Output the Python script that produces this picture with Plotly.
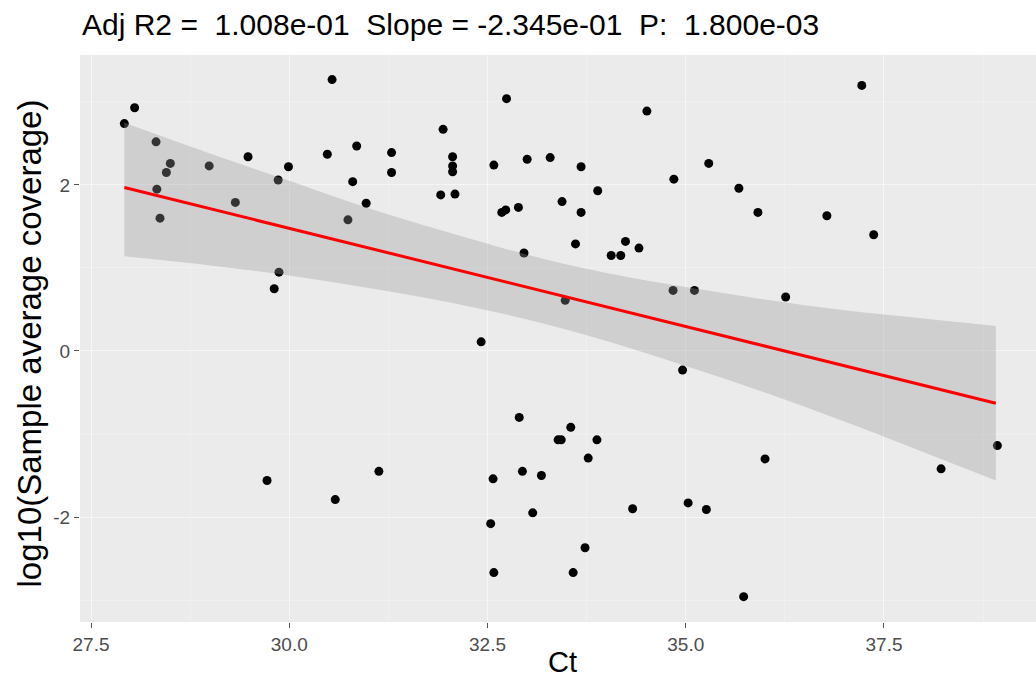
import plotly.graph_objects as go

# ---- data ----
ct = [28.05, 27.92, 28.32, 28.50, 28.45, 28.33, 28.37, 28.99, 29.48, 29.32,
      29.99, 29.86, 29.87, 29.81, 30.54, 30.48, 30.85, 30.80, 30.97, 30.74,
      31.29, 31.29, 31.94, 31.91, 32.06, 32.06, 32.09, 32.74, 32.58, 33.00,
      33.29, 33.68, 33.89, 33.44, 33.68, 32.68, 32.73, 32.89, 34.51, 34.85,
      35.29, 35.67, 35.91, 32.96, 33.61, 34.24, 34.06, 34.18, 34.41, 34.84,
      35.11, 33.48, 32.42, 34.96, 32.90, 33.55, 33.39, 33.43, 33.88, 33.77,
      36.00, 32.57, 32.94, 33.18, 33.07, 32.54, 34.33, 35.03, 35.26, 33.73,
      32.58, 33.58, 35.73, 29.72, 30.58, 31.13, 37.22, 36.78, 37.37, 36.26,
      38.93, 38.22, 32.06]
coverage = [2.93, 2.74, 2.52, 2.26, 2.15, 1.95, 1.60, 2.23, 2.34, 1.79,
            2.22, 2.06, 0.95, 0.75, 3.27, 2.37, 2.47, 2.04, 1.78, 1.58,
            2.39, 2.15, 2.67, 1.88, 2.34, 2.23, 1.89, 3.04, 2.24, 2.31,
            2.33, 2.22, 1.93, 1.80, 1.67, 1.67, 1.70, 1.73, 2.89, 2.07,
            2.26, 1.96, 1.67, 1.18, 1.29, 1.32, 1.15, 1.15, 1.24, 0.73,
            0.73, 0.61, 0.11, -0.23, -0.80, -0.92, -1.07, -1.07, -1.07, -1.29,
            -1.30, -1.54, -1.45, -1.50, -1.95, -2.08, -1.90, -1.83, -1.91, -2.37,
            -2.67, -2.67, -2.96, -1.56, -1.79, -1.45, 3.20, 1.63, 1.40, 0.65,
            -1.14, -1.42, 2.16]

fit_x = [27.92, 38.91]
fit_y = [1.97, -0.63]

band_x = [27.92, 29, 30, 31, 32, 33, 34, 35, 36, 37, 38, 38.91]
band_upper = [2.75, 2.38, 2.05, 1.72, 1.43, 1.16, 0.94, 0.77, 0.62, 0.49, 0.39, 0.30]
band_lower = [1.14, 1.03, 0.91, 0.76, 0.59, 0.38, 0.12, -0.18, -0.50, -0.85, -1.22, -1.56]

x_ticks = [27.5, 30.0, 32.5, 35.0, 37.5]
x_ticklabels = ["27.5", "30.0", "32.5", "35.0", "37.5"]
x_minor = [28.75, 31.25, 33.75, 36.25, 38.75]
y_ticks = [-2, 0, 2]
y_ticklabels = ["-2", "0", "2"]
y_minor = [-3, -1, 1, 3]

title_text = "Adj R2 =  1.008e-01  Slope = -2.345e-01  P:  1.800e-03"
x_title = "Ct"
y_title = "log10(Sample average coverage)"

FONT = "Liberation Sans, Arial, sans-serif"

fig = go.Figure()

fig.add_trace(go.Scatter(
    x=ct, y=coverage, mode="markers",
    marker=dict(color="black", size=9, line=dict(width=0)),
    showlegend=False, hoverinfo="skip"))

fig.add_trace(go.Scatter(
    x=band_x, y=band_lower, mode="lines", line=dict(width=0, shape="spline"),
    showlegend=False, hoverinfo="skip"))
fig.add_trace(go.Scatter(
    x=band_x, y=band_upper, mode="lines", line=dict(width=0, shape="spline"),
    fill="tonexty", fillcolor="rgba(153,153,153,0.34)",
    showlegend=False, hoverinfo="skip"))

fig.add_trace(go.Scatter(
    x=fit_x, y=fit_y, mode="lines", line=dict(color="#FF0000", width=3),
    showlegend=False, hoverinfo="skip"))

fig.update_layout(
    width=1036, height=686,
    margin=dict(l=80, r=0, t=55, b=64),
    paper_bgcolor="white",
    plot_bgcolor="#EBEBEB",
    font=dict(family=FONT),
    showlegend=False,
)

fig.update_xaxes(
    range=[27.361, 39.417],
    tickmode="array", tickvals=x_ticks, ticktext=x_ticklabels,
    ticks="outside", ticklen=5, tickwidth=1, tickcolor="#555555",
    tickfont=dict(size=19, color="#4D4D4D", family=FONT),
    showgrid=True, gridcolor="#F6F6F6", gridwidth=1.2,
    minor=dict(tickmode="array", tickvals=x_minor,
               showgrid=True, gridcolor="#F0F0F0", gridwidth=0.6, ticks=""),
    zeroline=False, showline=False,
)
fig.update_yaxes(
    range=[-3.265, 3.566],
    tickmode="array", tickvals=y_ticks, ticktext=y_ticklabels,
    ticks="outside", ticklen=5, tickwidth=1, tickcolor="#555555",
    tickfont=dict(size=19, color="#4D4D4D", family=FONT),
    showgrid=True, gridcolor="#F6F6F6", gridwidth=1.2,
    minor=dict(tickmode="array", tickvals=y_minor,
               showgrid=True, gridcolor="#F0F0F0", gridwidth=0.6, ticks=""),
    zeroline=False, showline=False,
)

nb = "\u00a0"
fig.add_annotation(
    text=title_text.replace(" ", nb), xref="paper", yref="paper",
    x=0.0, y=1.0, xanchor="left", yanchor="bottom", yshift=12,
    showarrow=False, font=dict(size=30, color="black", family=FONT))
fig.add_annotation(
    text=x_title, xref="paper", yref="paper",
    x=0.505, y=0, xanchor="center", yanchor="middle", yshift=-40,
    showarrow=False, font=dict(size=29, color="black", family=FONT))
fig.add_annotation(
    text=y_title, xref="paper", yref="paper", textangle=-90,
    x=0, y=0.5, xanchor="center", yanchor="middle", xshift=-51, yshift=-5,
    showarrow=False, font=dict(size=33, color="black", family=FONT))

fig.write_html(
    "out.html",
    config={"displayModeBar": False},
    post_script="document.body.style.margin='0';document.body.style.overflow='hidden';",
)
